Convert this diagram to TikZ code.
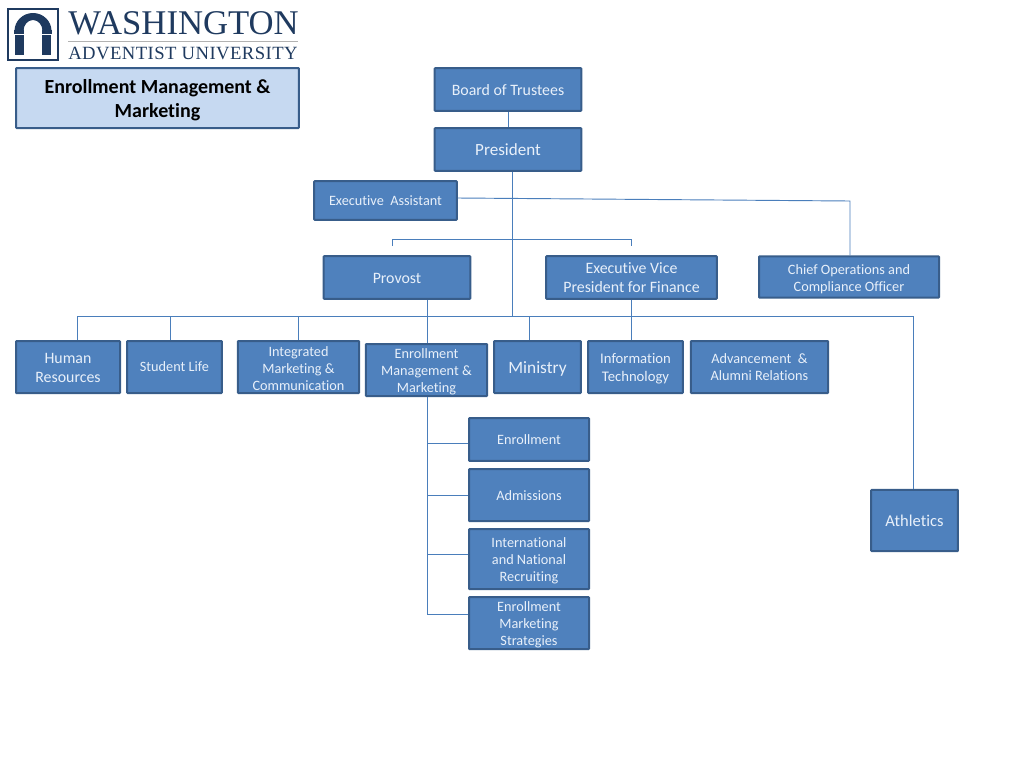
\documentclass[tikz,border=0pt]{standalone}
\usepackage{fontspec}
\setmainfont[Ligatures=CommonOff]{Carlito}
\newfontfamily\logofont{Liberation Serif}
\newfontfamily\logospaced[LetterSpace=2.4]{Liberation Serif}
\usetikzlibrary{calc}
\definecolor{ColFill}{RGB}{79,129,189}
\definecolor{ColDraw}{RGB}{56,93,138}
\definecolor{ColEdge}{RGB}{74,126,187}
\definecolor{ColTitle}{RGB}{198,217,241}
\definecolor{ColLogo}{RGB}{31,58,95}
\definecolor{ColText}{RGB}{232,240,250}
\newcommand{\LiftText}[1]{\rule{0pt}{#1pt}}
\tikzstyle{NodeOrg}=[rectangle,draw=ColDraw,fill=ColFill,line width=1.5pt,rounded corners=.5pt,
inner sep=0pt,align=center,text=ColText,font=\fontsize{10.7}{12.75}\selectfont]
\tikzstyle{NodeBig}=[NodeOrg,font=\fontsize{11.9}{14.25}\selectfont]
\tikzstyle{NodeMid}=[NodeOrg,font=\fontsize{11}{13.5}\selectfont]
\tikzstyle{NodeHead}=[NodeOrg,font=\fontsize{12.8}{15}\selectfont]
\tikzstyle{NodeTitle}=[NodeOrg,fill=ColTitle,text=black,font=\fontsize{15}{18}\selectfont\bfseries]
\tikzstyle{EdgeOrg}=[ColEdge,line width=.7pt]
\tikzstyle{NodeLogo}=[inner sep=0pt,text=ColLogo,anchor=west]
\begin{document}
\begin{tikzpicture}[x=.75pt,y=-.75pt]
    \useasboundingbox(0,0)rectangle(1024,768);
    % logo
    \draw[ColLogo,line width=1.5pt](8,9)rectangle(58,60);
    \fill[ColLogo](14.5,31)arc(180:360:18.5 and 18)--(42.5,31)arc(360:180:9.5 and 11)--cycle;
    \fill[ColLogo](14,30)rectangle(24,33.5);
    \fill[ColLogo](42,30)rectangle(52,33.5);
    \fill[ColLogo](15,34.5)rectangle(24,55);
    \fill[ColLogo](42,34.5)rectangle(51,55);
    \node[NodeLogo](wash)at(68,23){\logofont\fontsize{26}{27}\selectfont WASHINGTON};
    \node[NodeLogo](adv)at(68,53){\logospaced\fontsize{14}{15}\selectfont ADVENTIST UNIVERSITY};
    \draw[gray!60,line width=.5pt](68,41)--(298,41);
    % boxes
    \node[NodeTitle,minimum width=212pt,minimum height=45pt](title)at(157.5,98){\LiftText{13.5}Enrollment Management \&\\Marketing};
    \node[NodeBig,minimum width=110pt,minimum height=32pt](board)at(508,89.5){\LiftText{9.5}Board of Trustees};
    \node[NodeHead,minimum width=110pt,minimum height=32pt](pres)at(508,149.5){President};
    \node[NodeOrg,minimum width=107pt,minimum height=29pt](asst)at(385.5,200.5){Executive\ \ Assistant};
    \node[NodeBig,minimum width=110pt,minimum height=32pt](prov)at(397,277.5){\LiftText{9}Provost};
    \node[NodeBig,minimum width=128pt,minimum height=32pt](evp)at(631.5,277.5){\LiftText{9}Executive Vice\\President for Finance};
    \node[NodeOrg,minimum width=135pt,minimum height=31pt](coo)at(849,277){\LiftText{10.5}Chief Operations and\\Compliance Officer};
    \node[NodeBig,minimum width=78pt,minimum height=39pt](hr)at(68,367){\LiftText{9}Human\\Resources};
    \node[NodeOrg,minimum width=71pt,minimum height=39pt](life)at(174.5,367){Student Life};
    \node[NodeOrg,minimum width=91pt,minimum height=39pt](imc)at(298.5,367){\LiftText{10}Integrated\\Marketing \&\\Communication};
    \node[NodeOrg,minimum width=91pt,minimum height=39pt](emm)at(426.5,370){\LiftText{10.5}Enrollment\\Management \&\\Marketing};
    \node[NodeOrg,font=\fontsize{13}{15}\selectfont,minimum width=65pt,minimum height=39pt](min)at(537.5,367){\LiftText{12.5}Ministry};
    \node[NodeMid,minimum width=71pt,minimum height=39pt](info)at(635.5,367){\LiftText{10.5}Information\\Technology};
    \node[NodeOrg,minimum width=103pt,minimum height=39pt](alum)at(759.5,367){Advancement\ \ \&\\Alumni Relations};
    \node[NodeOrg,minimum width=90pt,minimum height=32pt](enr)at(529,439.5){Enrollment};
    \node[NodeOrg,minimum width=90pt,minimum height=39pt](adm)at(529,495){\LiftText{9}Admissions};
    \node[NodeOrg,minimum width=90pt,minimum height=45pt](intl)at(529,559){\LiftText{10.5}International\\and National\\Recruiting};
    \node[NodeOrg,minimum width=90pt,minimum height=39pt](strat)at(529,623){\LiftText{10.5}Enrollment\\Marketing\\Strategies};
    \node[NodeOrg,font=\fontsize{12.4}{15}\selectfont,minimum width=65pt,minimum height=46pt](ath)at(914.5,520.5){Athletics};
    % connectors
    \coordinate(busl)at(77,316);
    \coordinate(busr)at(913,316);
    \coordinate(trunk)at(512,316);
    \coordinate(splitl)at(392,246);
    \coordinate(splitr)at(631,246);
    \coordinate(stem)at(427,614);
    \draw[EdgeOrg](board)--(pres);
    \draw[EdgeOrg](trunk|-pres.south)--(trunk);
    \draw[EdgeOrg](asst.east|-0,198)--(850,201)--(850,201|-coo.north);
    \draw[EdgeOrg](splitl)--(392,239)--(631,239)--(splitr);
    \draw[EdgeOrg](busl)--(busr);
    \draw[EdgeOrg](busl)--(busl|-hr.north);
    \draw[EdgeOrg](170,316)--(170,316|-life.north);
    \draw[EdgeOrg](imc.north|-busl)--(imc.north);
    \draw[EdgeOrg](427,0|-prov.south)--(427,0|-emm.north);
    \draw[EdgeOrg](529,0|-busl)--(529,0|-min.north);
    \draw[EdgeOrg](631,0|-evp.south)--(631,0|-info.north);
    \draw[EdgeOrg](busr)--(busr|-ath.north);
    \draw[EdgeOrg](427,0|-emm.south)--(stem);
    \draw[EdgeOrg](427,443)--(427,443-|enr.west);
    \draw[EdgeOrg](427,495)--(adm.west);
    \draw[EdgeOrg](427,554)--(427,554-|intl.west);
    \draw[EdgeOrg](stem)--(stem-|strat.west);
\end{tikzpicture}
\end{document}
